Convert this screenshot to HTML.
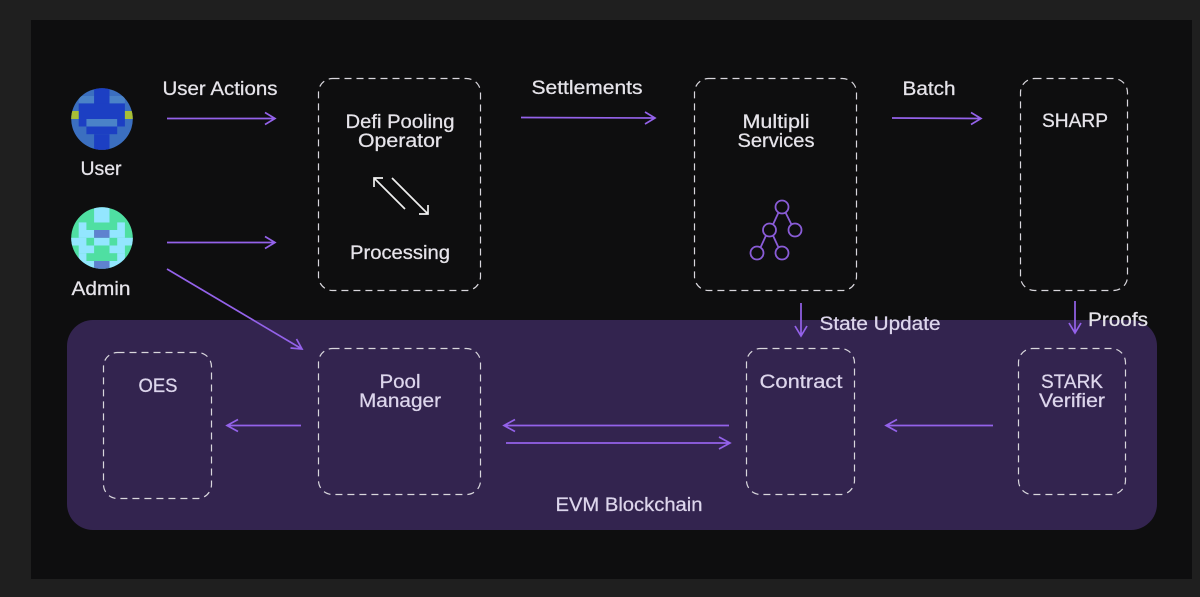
<!DOCTYPE html>
<html><head><meta charset="utf-8"><style>
html,body{margin:0;padding:0;background:#1f1f1f}
svg{display:block}
text{font-family:"Liberation Sans",sans-serif;font-size:19px;fill:#e6e4ea;stroke:#e6e4ea;stroke-width:.25;text-anchor:middle}
.v{fill:#ddd6ec;stroke:#ddd6ec}
.b{fill:none;stroke:#d8d6dc;stroke-width:1.2;stroke-dasharray:7 5}
.a{fill:none;stroke:#9462ea;stroke-width:1.7}
.w{fill:none;stroke:#f0f0f0;stroke-width:1.7}
.t{fill:none;stroke:#8a5cd8;stroke-width:1.8}
</style></head><body>
<svg width="1200" height="597" viewBox="0 0 1200 597" xmlns="http://www.w3.org/2000/svg">
<defs>
<clipPath id="c1"><circle cx="102" cy="119" r="30.800"/></clipPath>
<clipPath id="c2"><circle cx="102" cy="238" r="30.800"/></clipPath>
</defs>
<rect width="1200" height="597" fill="#1f1f1f"/>
<rect x="31" y="20" width="1161" height="559" fill="#0e0e0f"/>
<rect x="67" y="320" width="1090" height="210" rx="26" fill="#33244f"/>

<rect class="b" x="318.500" y="78.500" width="162" height="212" rx="14"/>
<rect class="b" x="694.500" y="78.500" width="162" height="212" rx="14"/>
<rect class="b" x="1020.500" y="78.500" width="107" height="212" rx="14"/>
<rect class="b" x="103.500" y="352.500" width="108" height="146" rx="14"/>
<rect class="b" x="318.500" y="348.500" width="162" height="146" rx="14"/>
<rect class="b" x="746.500" y="348.500" width="108" height="146" rx="14"/>
<rect class="b" x="1018.500" y="348.500" width="107" height="146" rx="14"/>

<g clip-path="url(#c1)">
<rect x="71" y="88" width="62" height="62" fill="#3b6fc0"/>
<g fill="#4a82c8">
<rect x="78.700" y="96" width="15.400" height="7.500"/>
<rect x="109.500" y="96" width="15.400" height="7.500"/>
<rect x="86.400" y="119" width="30.800" height="7.500"/>
</g>
<g fill="#1c3fc3">
<rect x="94.100" y="88" width="15.400" height="15.500"/>
<rect x="78.700" y="103.400" width="46.200" height="15.600"/>
<rect x="78.700" y="119" width="7.700" height="7.500"/>
<rect x="117.200" y="119" width="7.700" height="7.500"/>
<rect x="86.400" y="126.500" width="30.800" height="7.700"/>
<rect x="94.100" y="134.200" width="15.400" height="16"/>
</g>
<rect x="71" y="111" width="7.700" height="8" fill="#a9bf35"/>
<rect x="124.900" y="111" width="8" height="8" fill="#a9bf35"/>
</g>

<g clip-path="url(#c2)">
<rect x="71" y="207" width="62" height="62" fill="#4fdfa2"/>
<g fill="#93e6ff">
<rect x="94.100" y="207" width="15.400" height="15.500"/>
<rect x="78.700" y="222.400" width="7.700" height="7.700"/>
<rect x="117.200" y="222.400" width="7.700" height="7.700"/>
<rect x="78.700" y="230" width="15.400" height="7.800"/>
<rect x="109.500" y="230" width="15.400" height="7.800"/>
<rect x="71" y="237.800" width="15.400" height="7.700"/>
<rect x="94.100" y="237.800" width="15.400" height="7.700"/>
<rect x="117.200" y="237.800" width="15.800" height="7.700"/>
<rect x="78.700" y="245.500" width="15.400" height="7.700"/>
<rect x="109.500" y="245.500" width="15.400" height="7.700"/>
<rect x="78.700" y="253.200" width="7.700" height="7.800"/>
<rect x="117.200" y="253.200" width="7.700" height="7.800"/>
<rect x="78.700" y="261" width="15.400" height="8"/>
<rect x="109.500" y="261" width="15.400" height="8"/>
</g>
<rect x="94.100" y="230" width="15.400" height="7.800" fill="#5f82cf"/>
<rect x="94.100" y="261" width="15.400" height="8" fill="#5f82cf"/>
</g>

<text x="101" y="175" textLength="41" lengthAdjust="spacingAndGlyphs">User</text>
<text x="101" y="295" textLength="59" lengthAdjust="spacingAndGlyphs">Admin</text>
<text x="220" y="95" textLength="115" lengthAdjust="spacingAndGlyphs">User Actions</text>
<text x="587" y="94" textLength="111" lengthAdjust="spacingAndGlyphs">Settlements</text>
<text x="929" y="95" textLength="53" lengthAdjust="spacingAndGlyphs">Batch</text>
<text x="400" y="128" textLength="109" lengthAdjust="spacingAndGlyphs">Defi Pooling</text>
<text x="400" y="147" textLength="84" lengthAdjust="spacingAndGlyphs">Operator</text>
<text x="400" y="259" textLength="100" lengthAdjust="spacingAndGlyphs">Processing</text>
<text x="776" y="128" textLength="67" lengthAdjust="spacingAndGlyphs">Multipli</text>
<text x="776" y="147" textLength="77" lengthAdjust="spacingAndGlyphs">Services</text>
<text x="1075" y="127" textLength="66" lengthAdjust="spacingAndGlyphs">SHARP</text>
<text class="v" x="880" y="330" textLength="121" lengthAdjust="spacingAndGlyphs">State Update</text>
<text x="1118" y="326" textLength="60" lengthAdjust="spacingAndGlyphs">Proofs</text>
<text class="v" x="158" y="392" textLength="39" lengthAdjust="spacingAndGlyphs">OES</text>
<text class="v" x="400" y="388" textLength="41" lengthAdjust="spacingAndGlyphs">Pool</text>
<text class="v" x="400" y="407" textLength="82" lengthAdjust="spacingAndGlyphs">Manager</text>
<text class="v" x="801" y="388" textLength="83" lengthAdjust="spacingAndGlyphs">Contract</text>
<text class="v" x="1072" y="388" textLength="62" lengthAdjust="spacingAndGlyphs">STARK</text>
<text class="v" x="1072" y="407" textLength="66" lengthAdjust="spacingAndGlyphs">Verifier</text>
<text class="v" x="629" y="511" textLength="147" lengthAdjust="spacingAndGlyphs">EVM Blockchain</text>

<path class="a" d="M167 118.500H274M265 112.500L275 118.500L265 124.500"/>
<path class="a" d="M167 242.500H274M265 236.500L275 242.500L265 248.500"/>
<path class="a" d="M521 117.500L654 118M645 112L655 118L645 124"/>
<path class="a" d="M892 118L980 118.500M971 112.500L981 118.500L971 124.500"/>
<path class="a" d="M167 269L302 349M290.500 348L302 349L296.500 339"/>
<path class="a" d="M801 303V335M795 326L801 336L807 326"/>
<path class="a" d="M1075 301V332M1069 323L1075 333L1081 323"/>
<path class="a" d="M301 425.500H228M238 419.500L227 425.500L238 431.500"/>
<path class="a" d="M729 425.500H505M515 419.500L504 425.500L515 431.500"/>
<path class="a" d="M506 443H729M719 437L730 443L719 449"/>
<path class="a" d="M993 425.500H887M897 419.500L886 425.500L897 431.500"/>

<path class="w" d="M405 209L374 178M374 187V178H383"/>
<path class="w" d="M392 178L428 214M428 205V214H419"/>

<g class="t">
<circle cx="782" cy="207" r="6.500"/>
<circle cx="769.500" cy="230" r="6.500"/>
<circle cx="795" cy="230" r="6.500"/>
<circle cx="757" cy="253" r="6.500"/>
<circle cx="782" cy="253" r="6.500"/>
<path d="M778.500 212.500L773 224.500M785.500 212.500L791.500 224.500M766 235.500L760.500 247.500M773 235.500L778.500 247.500"/>
</g>
</svg>
</body></html>
